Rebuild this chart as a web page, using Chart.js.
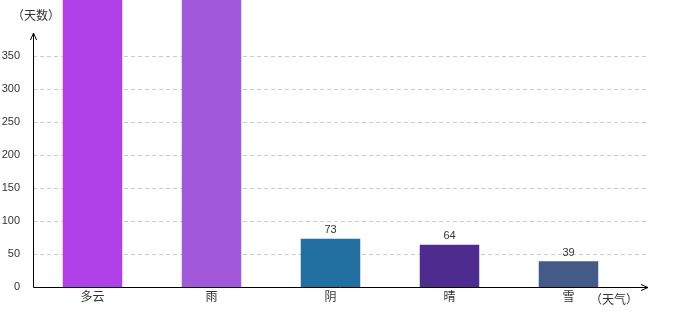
<!DOCTYPE html>
<html lang="zh">
<head>
<meta charset="UTF-8">
<title>天气统计</title>
<script src="https://cdn.jsdelivr.net/npm/chart.js"></script>
<style>
  html, body { margin: 0; padding: 0; background: #fff; }
  #wrap { width: 680px; height: 320px; }
</style>
</head>
<body>
<div id="wrap"><canvas id="chart" width="680" height="320"></canvas></div>
<script>
// data
const categories = ['多云', '雨', '阴', '晴', '雪'];
const days = [460, 450, 73, 64, 39];
const barColors = ['#b040e8', '#a259d9', '#216ea0', '#4e2b8e', '#445b88'];
const yTicks = [0, 50, 100, 150, 200, 250, 300, 350];
const yTitle = '（天数）';
const xTitle = '（天气）';

const CJK = '"Noto Sans CJK SC", "Noto Sans", sans-serif';
const NUM = '"Liberation Sans", Arial, sans-serif';

// draws dashed grid, axes with arrows, titles and value labels
const decor = {
  id: 'decor',
  beforeDatasetsDraw(chart) {
    const { ctx, chartArea, scales } = chart;
    const y = scales.y;
    ctx.save();
    ctx.strokeStyle = '#cccccc';
    ctx.lineWidth = 1;
    ctx.setLineDash([4, 3]);
    yTicks.forEach(v => {
      if (v === 0) return;
      const py = Math.round(y.getPixelForValue(v)) + 0.5;
      ctx.beginPath();
      ctx.moveTo(chartArea.left, py);
      ctx.lineTo(chartArea.right + 20, py);
      ctx.stroke();
    });
    ctx.restore();
  },
  afterDatasetsDraw(chart) {
    const { ctx, chartArea, scales } = chart;
    const x0 = Math.round(chartArea.left) + 0.5;
    const y0 = Math.round(scales.y.getPixelForValue(0)) + 0.5;
    ctx.save();
    ctx.strokeStyle = '#000';
    ctx.lineWidth = 1;
    // x axis
    const xEnd = chartArea.right + 20;
    ctx.beginPath();
    ctx.moveTo(x0, y0);
    ctx.lineTo(xEnd, y0);
    ctx.moveTo(xEnd - 7, y0 - 3);
    ctx.lineTo(xEnd, y0);
    ctx.lineTo(xEnd - 7, y0 + 3);
    ctx.stroke();
    // y axis
    const yTop = chartArea.top;
    ctx.beginPath();
    ctx.moveTo(x0, y0);
    ctx.lineTo(x0, yTop);
    ctx.moveTo(x0 - 3, yTop + 7);
    ctx.lineTo(x0, yTop);
    ctx.lineTo(x0 + 3, yTop + 7);
    ctx.stroke();

    // titles
    ctx.fillStyle = '#333';
    ctx.font = '12px ' + CJK;
    ctx.textBaseline = 'middle';
    ctx.textAlign = 'left';
    ctx.fillText(yTitle, 12, 15);
    ctx.fillText(xTitle, 590, 299);

    // value labels
    ctx.font = '11px ' + NUM;
    ctx.textAlign = 'center';
    ctx.textBaseline = 'bottom';
    const meta = chart.getDatasetMeta(0);
    meta.data.forEach((bar, i) => {
      ctx.fillText(String(days[i]), bar.x, bar.y - 3);
    });
    ctx.restore();
  }
};

new Chart(document.getElementById('chart').getContext('2d'), {
  type: 'bar',
  data: {
    labels: categories,
    datasets: [{
      data: days,
      backgroundColor: barColors,
      borderWidth: 0,
      barPercentage: 0.5,
      categoryPercentage: 1,
      clip: false
    }]
  },
  options: {
    responsive: false,
    animation: false,
    events: [],
    layout: { padding: { top: 33, right: 52, left: 0, bottom: 0 } },
    plugins: { legend: { display: false }, tooltip: { enabled: false } },
    scales: {
      x: {
        grid: { display: false, drawTicks: false },
        border: { display: false },
        ticks: { color: '#333', font: { family: CJK, size: 12 }, padding: 2 },
        afterFit(scale) { scale.height = 33; }
      },
      y: {
        min: 0,
        max: 385,
        grid: { display: false },
        border: { display: false },
        afterBuildTicks(scale) { scale.ticks = yTicks.map(v => ({ value: v })); },
        ticks: { color: '#333', font: { family: NUM, size: 11 }, padding: 5 },
        afterFit(scale) { scale.width = 33; }
      }
    }
  },
  plugins: [decor]
});
</script>
</body>
</html>
